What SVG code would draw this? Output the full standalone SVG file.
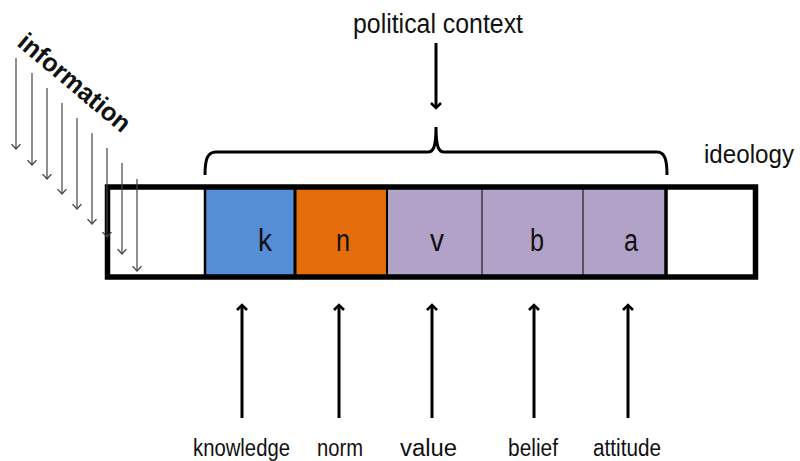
<svg xmlns="http://www.w3.org/2000/svg" width="800" height="461" viewBox="0 0 800 461">
<style>
text{font-family:"Liberation Sans",Arial,sans-serif;fill:#111}
.lbl{font-size:23px}
.cell{font-size:31px}
.big{stroke:#000;stroke-width:3;fill:none}
.thin{stroke:#444;stroke-width:1.2;fill:none}
</style>
<defs>
<marker id="vh" markerWidth="12" markerHeight="12" refX="6" refY="6" orient="auto" markerUnits="userSpaceOnUse" viewBox="0 0 12 12">
<path d="M1,1 L6,6 L1,11" fill="none" stroke="#000" stroke-width="2.6"/>
</marker>
<marker id="vt" markerWidth="10" markerHeight="10" refX="5" refY="5" orient="auto" markerUnits="userSpaceOnUse" viewBox="0 0 10 10">
<path d="M0,0.5 L5,5 L0,9.5" fill="none" stroke="#444" stroke-width="1.2"/>
</marker>
</defs>
<rect width="800" height="461" fill="#fff"/>

<g id="info">
<text transform="translate(16,45) rotate(40)" font-size="26" font-weight="bold" textLength="138" lengthAdjust="spacingAndGlyphs">information</text>
</g>

<g id="bar">
<rect x="107.5" y="187" width="648" height="90" fill="#fff"/>
<rect id="k" x="205" y="189" width="90" height="87" fill="#558ED5"/>
<rect id="n" x="295" y="189" width="92" height="87" fill="#E46C0A"/>
<rect id="v" x="387" y="189" width="95" height="87" fill="#B3A2C7"/>
<rect id="b" x="482" y="189" width="101" height="87" fill="#B3A2C7"/>
<rect id="a" x="583" y="189" width="83" height="87" fill="#B3A2C7"/>
<line x1="205" y1="188" x2="205" y2="277" stroke="#000" stroke-width="2.5"/>
<line x1="295" y1="188" x2="295" y2="277" stroke="#000" stroke-width="3"/>
<line x1="387" y1="188" x2="387" y2="277" stroke="#000" stroke-width="2"/>
<line x1="482" y1="188" x2="482" y2="277" stroke="#000" stroke-width="1"/>
<line x1="583" y1="188" x2="583" y2="277" stroke="#000" stroke-width="1"/>
<line x1="666" y1="188" x2="666" y2="277" stroke="#000" stroke-width="3.5"/>
<rect x="107.5" y="187" width="648" height="90" fill="none" stroke="#000" stroke-width="5.5"/>
<text class="cell" x="265" y="251" text-anchor="middle" textLength="14" lengthAdjust="spacingAndGlyphs">k</text>
<text class="cell" x="343" y="251" text-anchor="middle" textLength="14" lengthAdjust="spacingAndGlyphs">n</text>
<text class="cell" x="437" y="251" text-anchor="middle" textLength="14" lengthAdjust="spacingAndGlyphs">v</text>
<text class="cell" x="537" y="251" text-anchor="middle" textLength="14" lengthAdjust="spacingAndGlyphs">b</text>
<text class="cell" x="631" y="251" text-anchor="middle" textLength="14" lengthAdjust="spacingAndGlyphs">a</text>
</g>

<g id="political">
<text x="353" y="33" font-size="27" textLength="170" lengthAdjust="spacingAndGlyphs">political context</text>
</g>
<g id="ideology">
<text x="704" y="163" font-size="26" textLength="90" lengthAdjust="spacingAndGlyphs">ideology</text>
</g>
<g id="labels">
<text class="lbl" x="193" y="456" textLength="97" lengthAdjust="spacingAndGlyphs">knowledge</text>
<text class="lbl" x="317" y="456" textLength="46" lengthAdjust="spacingAndGlyphs">norm</text>
<text class="lbl" x="400" y="456" textLength="57" lengthAdjust="spacingAndGlyphs">value</text>
<text class="lbl" x="508" y="456" textLength="50" lengthAdjust="spacingAndGlyphs">belief</text>
<text class="lbl" x="593" y="456" textLength="68" lengthAdjust="spacingAndGlyphs">attitude</text>
</g>

<g id="connectors">
<path class="big" d="M205,175 C205,160 207,152 216,152 L428,152 C433,152 436,148 436,127 C436,148 439,152 444,152 L657,152 C665,152 667,160 667,175"/>
<line class="big" x1="436" y1="43" x2="436" y2="108" marker-end="url(#vh)"/>
<line class="big" x1="242" y1="418" x2="242" y2="305" marker-end="url(#vh)"/>
<line class="big" x1="339" y1="418" x2="339" y2="305" marker-end="url(#vh)"/>
<line class="big" x1="432" y1="418" x2="432" y2="305" marker-end="url(#vh)"/>
<line class="big" x1="534" y1="418" x2="534" y2="305" marker-end="url(#vh)"/>
<line class="big" x1="628" y1="418" x2="628" y2="305" marker-end="url(#vh)"/>
<line class="thin" x1="16" y1="58" x2="16" y2="149" marker-end="url(#vt)"/>
<line class="thin" x1="32" y1="73" x2="32" y2="165" marker-end="url(#vt)"/>
<line class="thin" x1="47" y1="88" x2="47" y2="179" marker-end="url(#vt)"/>
<line class="thin" x1="62" y1="103" x2="62" y2="194" marker-end="url(#vt)"/>
<line class="thin" x1="77" y1="118" x2="77" y2="209" marker-end="url(#vt)"/>
<line class="thin" x1="92" y1="133" x2="92" y2="224" marker-end="url(#vt)"/>
<line class="thin" x1="107" y1="148" x2="107" y2="237" marker-end="url(#vt)"/>
<line class="thin" x1="122" y1="163" x2="122" y2="254" marker-end="url(#vt)"/>
<line class="thin" x1="137" y1="179" x2="137" y2="271" marker-end="url(#vt)"/>
</g>
</svg>
